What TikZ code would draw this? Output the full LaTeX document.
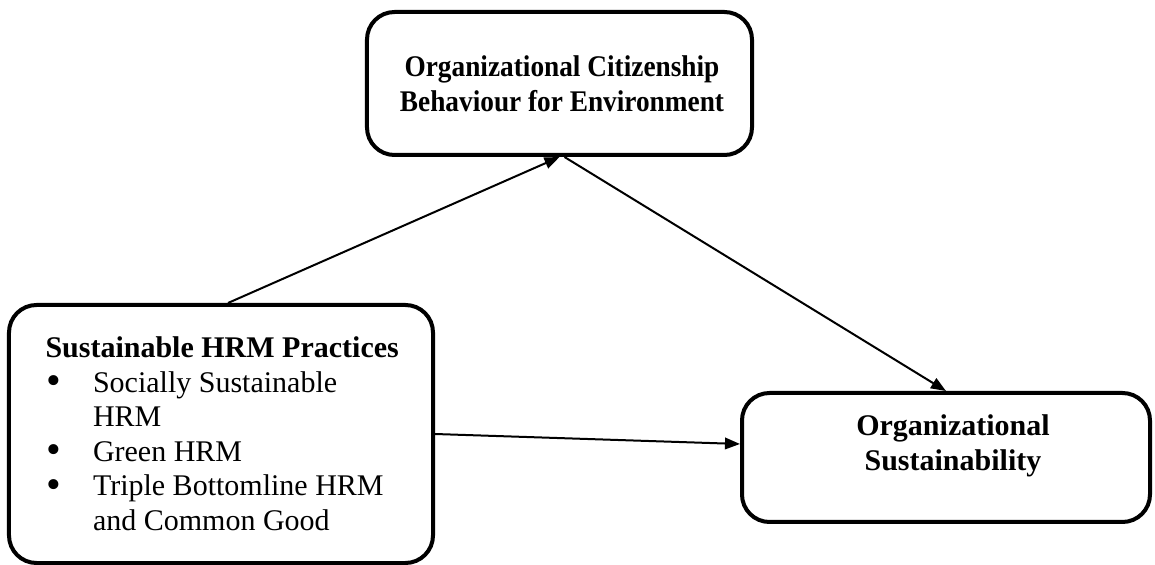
\documentclass[tikz,border=0pt]{standalone}
\usepackage{fontspec}
\setmainfont{Liberation Serif}
\usetikzlibrary{arrows.meta}
\newcommand{\bigbullet}{\hspace{0.4pt}\smash{\raisebox{-0.9pt}{\scalebox{1.4}{\textbullet}}}}
\begin{document}
\begin{tikzpicture}[x=0.4pt,y=-0.4pt,
  box/.style={draw=black, line width=1.6pt, rounded corners=11pt, fill=white, inner sep=0pt},
  label/.style={font=\fontsize{12}{13.8}\selectfont\bfseries, align=center, inner sep=0pt},
  link/.style={line width=0.8pt, -{Triangle[length=6pt,width=4.6pt]}}]
  \useasboundingbox (0,0) rectangle (1155,565);
  % boxes
  \node[box, minimum width=154pt, minimum height=57.2pt] (ocbe) at (559.5,83.5) {};
  \node[box, minimum width=169.6pt, minimum height=103.2pt] (hrm) at (221,434) {};
  \node[box, minimum width=163.2pt, minimum height=51.6pt] (os) at (946,457.5) {};
  % texts
  \node[label] (ocbetext) at (562,87) {\scalebox{0.91}[1]{%
    \begin{tabular}{@{}c@{}}Organizational Citizenship\\Behaviour for Environment\end{tabular}}};
  \node[label] (ostext) at (953,446) {Organizational\\Sustainability};
  \node[anchor=base west, inner sep=0pt, font=\fontsize{12}{13.8}\selectfont] (hrmtext) at (45,358) {%
    \begin{tabular}[t]{@{}p{19pt}@{}l@{}}
      \multicolumn{2}{@{}l@{}}{\bfseries Sustainable HRM Practices}\\
      \bigbullet & Socially Sustainable\\
       & HRM\\
      \bigbullet & Green HRM\\
      \bigbullet & Triple Bottomline HRM\\
       & and Common Good
    \end{tabular}};
  % connectors
  \draw[link] ([xshift=2.8pt]hrm.north) -- (ocbe.south);
  \draw[link] ([xshift=2pt]ocbe.south) -- (os.north);
  \draw[link] (hrm.east) -- ([yshift=5.4pt]os.west);
\end{tikzpicture}
\end{document}
